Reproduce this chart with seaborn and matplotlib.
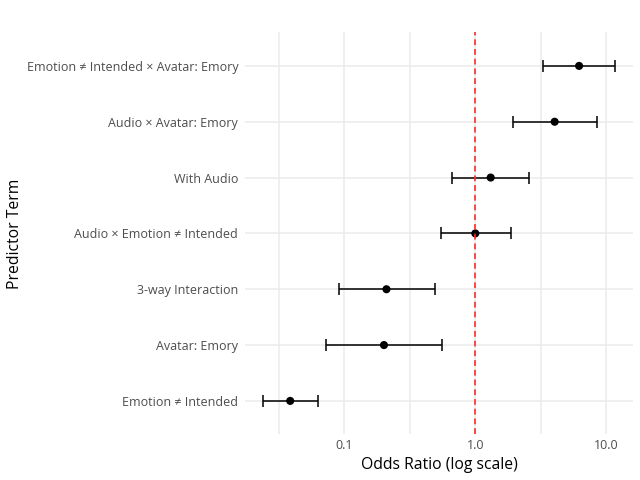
import numpy as np
import pandas as pd
import matplotlib
matplotlib.use("Agg")
import matplotlib.pyplot as plt
import matplotlib.ticker as mticker
import seaborn as sns

# 数据（从上到下）
terms = [
    "Emotion ≠ Intended × Avatar: Emory",
    "Audio × Avatar: Emory",
    "With Audio",
    "Audio × Emotion ≠ Intended",
    "3-way Interaction",
    "Avatar: Emory",
    "Emotion ≠ Intended",
]
odds_ratio = [6.19, 4.03, 1.31, 1.00, 0.210, 0.201, 0.0387]
ci_low = [3.29, 1.94, 0.664, 0.543, 0.0912, 0.0725, 0.0239]
ci_high = [11.7, 8.54, 2.58, 1.86, 0.492, 0.56, 0.063]
x_ticks = [0.1, 1.0, 10.0]
x_minor = [10 ** -1.5, 10 ** -0.5, 10 ** 0.5, 10 ** 1.5]

df = pd.DataFrame({"term": terms, "or": odds_ratio, "lo": ci_low, "hi": ci_high})

sns.set_theme(style="whitegrid")
plt.rcParams["font.family"] = ["Open Sans", "DejaVu Sans"]

fig = plt.figure(figsize=(6.4, 4.8), dpi=100)
ax = fig.add_axes([0.383, 0.095, 0.606, 0.8375])

# 置信区间
ax.errorbar(df["or"], df["term"],
            xerr=[df["or"] - df["lo"], df["hi"] - df["or"]],
            fmt="none", ecolor="black", elinewidth=1.1, capsize=4, capthick=1.1, zorder=3)
sns.scatterplot(data=df, x="or", y="term", color="black", s=34, edgecolor="none",
                ax=ax, zorder=4)
ax.axvline(1.0, color="#ff2a2a", lw=1.4, ls=(0, (3, 2)), alpha=0.85, zorder=5)

ax.set_xscale("log")
lo_log = np.log10(min(ci_low))
hi_log = np.log10(max(ci_high))
pad = (hi_log - lo_log) * 0.05
ax.set_xlim(10 ** (lo_log - pad), 10 ** (hi_log + pad))
ax.set_ylim(len(terms) - 0.4, -0.6)

ax.xaxis.set_major_locator(mticker.FixedLocator(x_ticks))
ax.xaxis.set_major_formatter(mticker.FixedFormatter([f"{t:.1f}" for t in x_ticks]))
ax.xaxis.set_minor_locator(mticker.FixedLocator(x_minor))
ax.xaxis.set_minor_formatter(mticker.NullFormatter())

ax.grid(True, which="major", color="#ebebeb", lw=1.1)
ax.grid(True, which="minor", axis="x", color="#ebebeb", lw=1.1)
for s in ax.spines.values():
    s.set_visible(False)
ax.tick_params(axis="both", which="both", length=0, labelsize=9, colors="#4d4d4d")
ax.tick_params(axis="x", pad=3)
ax.tick_params(axis="y", pad=5)

ax.set_xlabel("Odds Ratio (log scale)", fontsize=11.3, color="black", labelpad=4)
ax.set_ylabel("Predictor Term", fontsize=11.3, color="black")
ax.yaxis.set_label_coords(-0.572, 0.5)

fig.savefig("out.png", dpi=100)
